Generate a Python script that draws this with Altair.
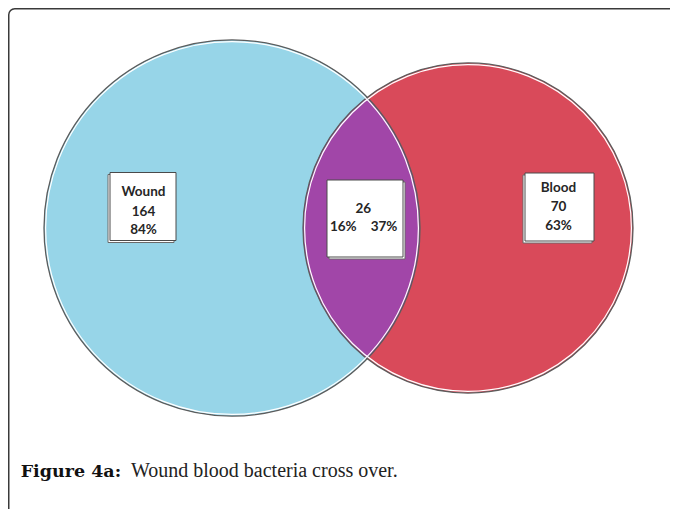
import math
import altair as alt
import pandas as pd

# ---------------- data ----------------
SET_NAMES = ["Wound", "Blood"]
ONLY_COUNTS = [164, 70]
ONLY_PCTS = ["84%", "63%"]
SHARED_COUNT = [26]
SHARED_PCTS = ["16%", "37%"]
CAPTION_BOLD = ["Figure 4a:"]
CAPTION_TEXT = ["Wound blood bacteria cross over."]

# ---------------- layout (pixels inside the drawing frame) ----------------
W, H = 662, 501
CIRCLE_CX = [224, 460]
CIRCLE_CY = [220, 220]
CIRCLE_R = [188, 165]
SET_COLORS = ["#97D5E8", "#D94A5A"]
SHARED_COLOR = "#A146A8"
OUTLINE = "#5c5c5c"

# boxes: x, x2, y, y2, shadow offset
BOX_ONLY = [(102, 168, 164.5, 232.5, -2), (517, 586, 165, 233, -2)]
BOX_SHARED = (319, 395, 172, 249, 2)
ONLY_TEXT_X = [135.5, 550.5]
ONLY_TEXT_Y = [[187.7, 207.6, 226.0], [183.7, 202.7, 222.0]]
SHARED_TEXT_POS = [(355.3, 204.7), (335.3, 223.0), (376.0, 223.0)]
CAPTION_POS = [(12.7, 468.7), (123.0, 468.7)]

xs = alt.Scale(domain=[0, W], nice=False, zero=False)
ys = alt.Scale(domain=[0, H], nice=False, zero=False, reverse=True)


def X(f="x"):
    return alt.X(f + ":Q", scale=xs, axis=None)


def Y(f="y"):
    return alt.Y(f + ":Q", scale=ys, axis=None)


# frame (right and bottom edges run past the drawing area, as in the figure)
frame_df = pd.DataFrame({"x": [0.75], "x2": [700.0], "y": [0.75], "y2": [560.0]})
frame = alt.Chart(frame_df).mark_rect(
    fill="transparent", stroke="#3a3a3a", strokeWidth=1.5, cornerRadius=6
).encode(x=X(), x2="x2:Q", y=Y(), y2="y2:Q")

# circles
circ = pd.DataFrame({
    "set": SET_NAMES, "x": CIRCLE_CX, "y": CIRCLE_CY, "r": CIRCLE_R, "color": SET_COLORS
})
circ["size"] = (2 * circ["r"]) ** 2
circ["size_in"] = (2 * (circ["r"] - 1.6)) ** 2

fills = alt.Chart(circ).mark_point(
    shape="circle", filled=True, opacity=1, strokeWidth=0
).encode(
    x=X(), y=Y(),
    size=alt.Size("size:Q", scale=None, legend=None),
    fill=alt.Fill("color:N", scale=None, legend=None),
)

# lens (intersection), built from the two circles
cxa, cxb = CIRCLE_CX
ra, rb = CIRCLE_R
d = cxb - cxa
a = (d * d + ra * ra - rb * rb) / (2 * d)
h = math.sqrt(ra * ra - a * a)
lens_path = (
    f"M 0 {-h:.3f} A {ra} {ra} 0 0 1 0 {h:.3f} "
    f"A {rb} {rb} 0 0 1 0 {-h:.3f} Z"
)
lens_df = pd.DataFrame({"x": [cxa + a], "y": [CIRCLE_CY[0]], "n": SHARED_COUNT})
lens = alt.Chart(lens_df).mark_point(
    shape=lens_path, filled=True, fill=SHARED_COLOR, opacity=1, strokeWidth=0
).encode(x=X(), y=Y(), size=alt.value(4))

outline_dark = alt.Chart(circ).mark_point(
    shape="circle", filled=False, stroke=OUTLINE, strokeWidth=1.3, opacity=1
).encode(x=X(), y=Y(), size=alt.Size("size:Q", scale=None, legend=None))
outline_white = alt.Chart(circ).mark_point(
    shape="circle", filled=False, stroke="white", strokeWidth=1.2, opacity=1
).encode(x=X(), y=Y(), size=alt.Size("size_in:Q", scale=None, legend=None))

# boxes
boxes = [BOX_ONLY[0], BOX_SHARED, BOX_ONLY[1]]
box_df = pd.DataFrame([{"x": b[0], "x2": b[1], "y": b[2], "y2": b[3]} for b in boxes])
shadow_df = pd.DataFrame([{"x": b[0] + b[4], "x2": b[1] + b[4], "y": b[2] + 2, "y2": b[3] + 2} for b in boxes])
shadow = alt.Chart(shadow_df).mark_rect(fill="white", stroke="#6a6a6a", strokeWidth=1).encode(
    x=X(), x2="x2:Q", y=Y(), y2="y2:Q")
box = alt.Chart(box_df).mark_rect(fill="white", stroke="#4a4a4a", strokeWidth=1).encode(
    x=X(), x2="x2:Q", y=Y(), y2="y2:Q")

# labels
rows = []
for i, name in enumerate(SET_NAMES):
    for j, t in enumerate([name, str(ONLY_COUNTS[i]), ONLY_PCTS[i]]):
        rows.append({"x": ONLY_TEXT_X[i], "y": ONLY_TEXT_Y[i][j], "t": t})
for (px, py), t in zip(SHARED_TEXT_POS, [str(SHARED_COUNT[0])] + SHARED_PCTS):
    rows.append({"x": px, "y": py, "t": t})
label_df = pd.DataFrame(rows)
labels = alt.Chart(label_df).mark_text(
    font="Lato", fontWeight="bold", fontSize=13.5, baseline="alphabetic", align="center", color="#262626"
).encode(x=X(), y=Y(), text="t:N")

# caption
cap_b = alt.Chart(pd.DataFrame({"x": [CAPTION_POS[0][0]], "y": [CAPTION_POS[0][1]], "t": CAPTION_BOLD})).mark_text(
    font="DejaVu Serif", fontWeight="bold", fontSize=17.5,
    baseline="alphabetic", align="left", color="#111111"
).encode(x=X(), y=Y(), text="t:N")
cap_r = alt.Chart(pd.DataFrame({"x": [CAPTION_POS[1][0]], "y": [CAPTION_POS[1][1]], "t": CAPTION_TEXT})).mark_text(
    font="Liberation Serif", fontSize=20, baseline="alphabetic", align="left", color="#222222"
).encode(x=X(), y=Y(), text="t:N")

chart = alt.layer(
    frame, fills, lens, outline_dark, outline_white, shadow, box, labels, cap_b, cap_r
).properties(
    width=W, height=H, padding=0, autosize=alt.AutoSizeParams(type="none"), background="white"
).configure_view(stroke=None)

chart.save("out.html", embed_options={"renderer": "svg", "actions": False})
